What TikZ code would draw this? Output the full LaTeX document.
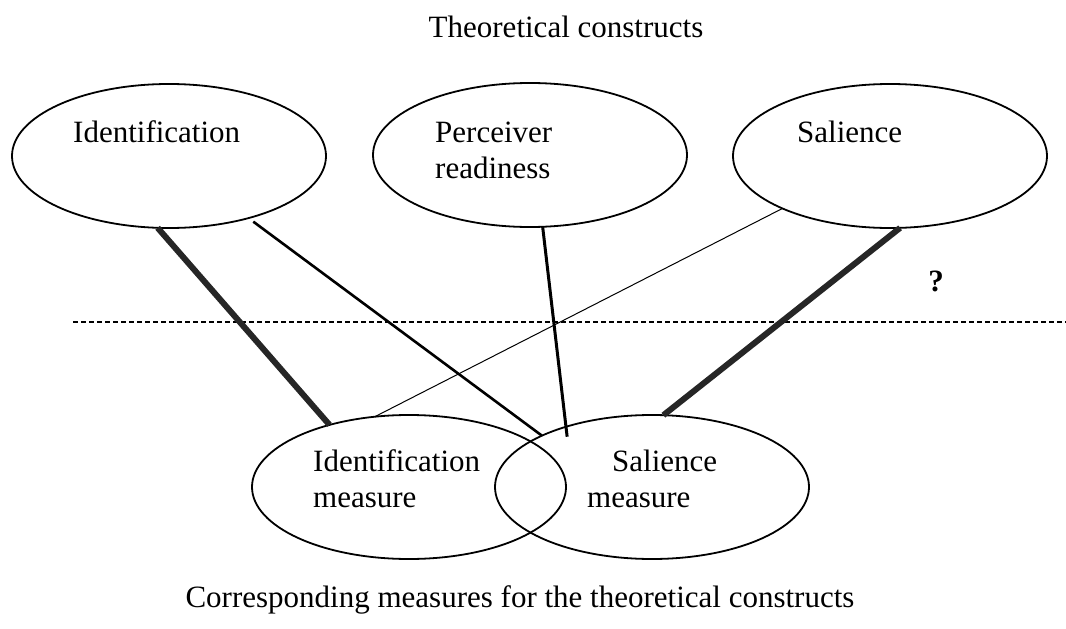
\documentclass[tikz,border=0pt]{standalone}
\usepackage{fontspec}
\setmainfont{Liberation Serif}
\usetikzlibrary{shapes.geometric}
\begin{document}
\begin{tikzpicture}[x=1pt,y=-1pt,
  construct/.style={draw, ellipse, line width=1.8pt, minimum width=314pt,
    minimum height=144pt, inner sep=0pt, outer sep=0pt},
  ctext/.style={anchor=base west, inner sep=0pt, align=left,
    font=\fontsize{31}{36}\selectfont},
  caption/.style={anchor=base, inner sep=0pt, font=\fontsize{31}{36}\selectfont},
  linkheavy/.style={line width=6pt, draw=black!85},
  linkmid/.style={line width=2.6pt},
  linkthin/.style={line width=1pt}]
\useasboundingbox (0,0) rectangle (1066,629);

% headings
\node[caption] (top) at (566,37) {Theoretical constructs};
\node[caption] (bottom) at (520,607) {Corresponding measures for the theoretical constructs};

% theoretical constructs (two-line labels are anchored at their last baseline)
\node[construct] (ident) at (169,156) {};
\node[construct] (ready) at (530,155) {};
\node[construct] (sal)   at (890,156) {};
\node[ctext] (identT) at (73,142) {Identification};
\node[ctext] (readyT) at (435,178) {Perceiver\\readiness};
\node[ctext] (salT)   at (797,142) {Salience};

% measures
\node[construct] (identM) at (409,487) {};
\node[construct] (salM)   at (652,487) {};
\node[ctext] (identMT) at (313,507) {Identification\\measure};
\node[ctext] (salMT)   at (587,507) {\hspace*{25pt}Salience\\measure};

% separator between constructs and measures
\coordinate (sepL) at (73,322);
\coordinate (sepR) at (1066,322);
\draw[line width=1.8pt, dash pattern=on 5pt off 3pt] (sepL) -- (sepR);
\node[font=\bfseries\fontsize{31}{36}\selectfont, inner sep=0pt] (q) at (936,281) {?};

% links between constructs and measures
\draw[linkheavy] (ident.-99.5) -- (identM.142.4);
\draw[linkmid, shorten <=6pt] (ident.-38.5) -- (salM.155.9);
\draw[linkmid, line width=3pt, shorten >=-10pt] (ready.-80) -- (salM.145.5);
\draw[linkthin] (sal.-154.7) -- (identM.116.6);
\draw[linkheavy] (sal.-82) -- (salM.81.7);
\end{tikzpicture}
\end{document}
